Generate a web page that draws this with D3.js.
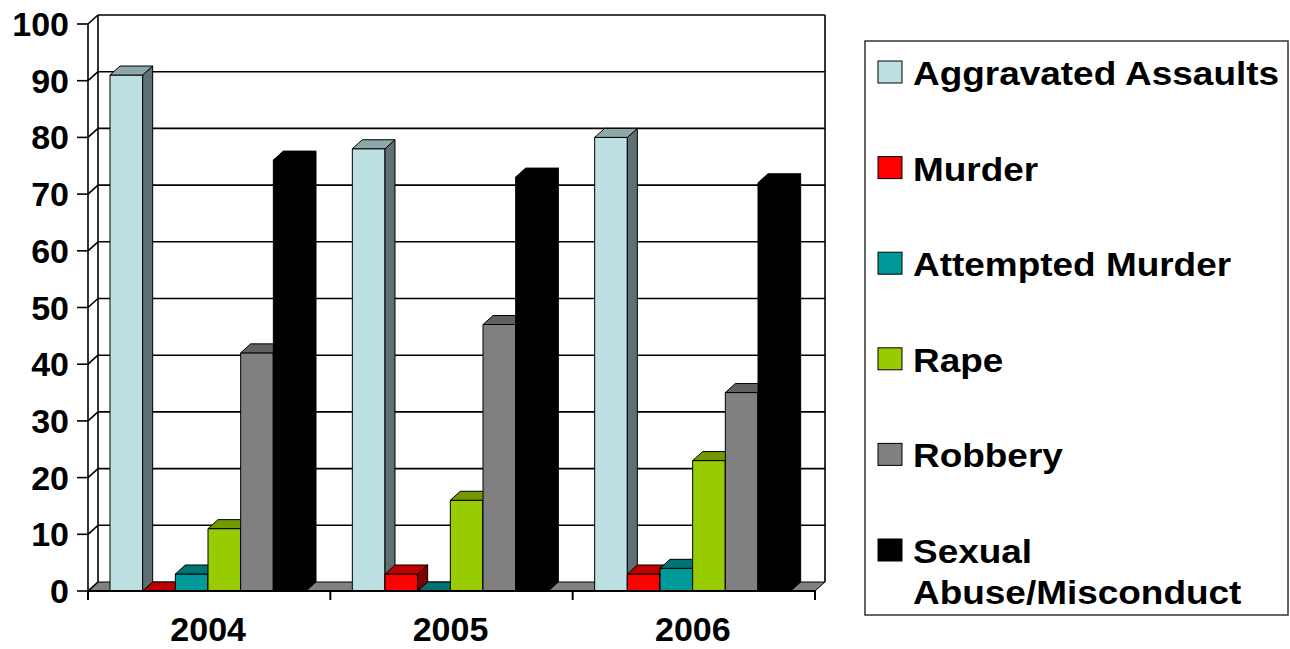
<!DOCTYPE html>
<html>
<head>
<meta charset="utf-8">
<script src="https://cdn.jsdelivr.net/npm/d3@7"></script>
<style>
  html, body { margin: 0; padding: 0; background: #fff; }
  svg { display: block; font-family: "Liberation Sans", Arial, sans-serif; font-weight: bold; }
</style>
</head>
<body>
<svg id="chart" width="1290" height="649"></svg>
<script>
// Incident counts by year
const years = ["2004", "2005", "2006"];
const seriesNames = ["Aggravated Assaults", "Murder", "Attempted Murder", "Rape", "Robbery", "Sexual Abuse/Misconduct"];
const legendLines = [["Aggravated Assaults"], ["Murder"], ["Attempted Murder"], ["Rape"], ["Robbery"], ["Sexual", "Abuse/Misconduct"]];
const seriesColors = ["#BDE0E3", "#FF0000", "#009999", "#99CC00", "#808080", "#000000"];
const aggravatedAssaults = [91, 78, 80];
const murder = [0, 3, 3];
const attemptedMurder = [3, 0, 4];
const rape = [11, 16, 23];
const robbery = [42, 47, 35];
const sexualAbuse = [76, 73, 72];
const yTicks = [0, 10, 20, 30, 40, 50, 60, 70, 80, 90, 100];

const seriesValues = [aggravatedAssaults, murder, attemptedMurder, rape, robbery, sexualAbuse];

const svg = d3.select("#chart");

// 3-D projection offset for depth
const dx = 10, dy = -9;

const x0 = d3.scaleBand().domain(years).range([88, 815]).paddingInner(0).paddingOuter(0);
const x1 = d3.scaleBand().domain(seriesNames).range([22, 218]).padding(0);
const y = d3.scaleLinear().domain([0, 100]).range([591, 24]);

const yBase = y(0);
const left = x0.range()[0], right = x0.range()[1];

const shade = (c, k) => {
  const col = d3.rgb(c);
  return d3.rgb(col.r * k, col.g * k, col.b * k).formatHex();
};

const line = d3.line();

// Walls and floor
const frame = svg.append("g");
// left wall
frame.append("path")
  .attr("d", line([[left, y(100)], [left + dx, y(100) + dy], [left + dx, yBase + dy], [left, yBase]]) + "Z")
  .attr("fill", "#fff");
// floor
frame.append("path")
  .attr("d", line([[left, yBase], [left + dx, yBase + dy], [right + dx, yBase + dy], [right, yBase]]) + "Z")
  .attr("fill", "#808080").attr("stroke", "#000").attr("stroke-width", 1);

// gridlines on back wall and left wall
const grid = svg.append("g").attr("stroke", "#000").attr("stroke-width", 1.6).attr("fill", "none");
yTicks.forEach(v => {
  const yy = y(v);
  if (v > 0) {
    grid.append("line").attr("x1", left + dx).attr("x2", right + dx).attr("y1", yy + dy).attr("y2", yy + dy);
  }
  grid.append("line").attr("x1", left).attr("x2", left + dx).attr("y1", yy).attr("y2", yy + dy);
  grid.append("line").attr("x1", left - 11).attr("x2", left).attr("y1", yy).attr("y2", yy);
});
grid.append("line").attr("x1", left + dx).attr("x2", left + dx).attr("y1", y(100) + dy).attr("y2", yBase + dy);
grid.append("line").attr("x1", right + dx).attr("x2", right + dx).attr("y1", y(100) + dy).attr("y2", yBase + dy);
grid.append("line").attr("x1", left).attr("x2", left).attr("y1", y(100)).attr("y2", yBase);

// Bars: front face, right side and top, drawn left to right so each bar hides its neighbour's side
const bars = svg.append("g").attr("stroke", "#000").attr("stroke-width", 1).attr("stroke-linejoin", "round");
years.forEach((yr, gi) => {
  seriesNames.forEach((name, si) => {
    const v = seriesValues[si][gi];
    const xl = x0(yr) + x1(name);
    const w = x1.bandwidth();
    const yt = y(v);
    const c = seriesColors[si];
    const g = bars.append("g");
    if (v > 0) {
      g.append("rect").attr("x", xl).attr("y", yt).attr("width", w).attr("height", yBase - yt).attr("fill", c);
      g.append("path")
        .attr("d", line([[xl + w, yt], [xl + w + dx, yt + dy], [xl + w + dx, yBase + dy], [xl + w, yBase]]) + "Z")
        .attr("fill", shade(c, 0.5));
    }
    g.append("path")
      .attr("d", line([[xl, yt], [xl + dx, yt + dy], [xl + w + dx, yt + dy], [xl + w, yt]]) + "Z")
      .attr("fill", shade(c, 0.75));
  });
});

// Category axis
const axisG = svg.append("g").attr("stroke", "#000").attr("stroke-width", 2);
axisG.append("line").attr("x1", left).attr("x2", right).attr("y1", yBase).attr("y2", yBase);
[...years.map(d => x0(d)), right].forEach(xx => {
  axisG.append("line").attr("x1", xx).attr("x2", xx).attr("y1", yBase).attr("y2", yBase + 9);
});

svg.append("g").selectAll("text").data(years).join("text")
  .attr("x", d => x0(d) + x0.bandwidth() / 2 - 1)
  .attr("y", 641)
  .attr("text-anchor", "middle")
  .attr("font-size", 34)
  .text(d => d);

// Value axis labels
svg.append("g").selectAll("text").data(yTicks).join("text")
  .attr("x", 69)
  .attr("y", d => y(d) + 12)
  .attr("text-anchor", "end")
  .attr("font-size", 34)
  .text(d => d);

// Legend
const legend = svg.append("g");
legend.append("rect").attr("x", 865).attr("y", 41).attr("width", 423).attr("height", 574)
  .attr("fill", "#fff").attr("stroke", "#333").attr("stroke-width", 1.5);
const legendStep = 95.6;
legendLines.forEach((lines, i) => {
  const base = 85 + i * legendStep;
  legend.append("rect").attr("x", 878).attr("y", base - 24).attr("width", 24).attr("height", 22)
    .attr("fill", seriesColors[i]).attr("stroke", "#000").attr("stroke-width", 1);
  lines.forEach((t, li) => {
    legend.append("text")
      .attr("transform", `translate(913,${base + li * 41}) scale(1.12,1)`)
      .attr("font-size", 33)
      .text(t);
  });
});
</script>
</body>
</html>
